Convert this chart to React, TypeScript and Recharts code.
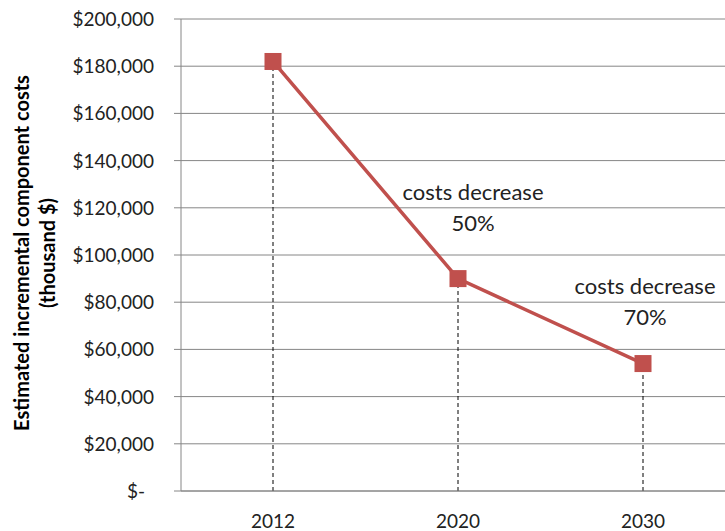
import { LineChart, Line, XAxis, YAxis, CartesianGrid, ReferenceLine, ReferenceDot, Label } from "recharts";

const years = ["2012", "2020", "2030"];
const costs = [182000, 90000, 54000];
const yTicks = [0, 20000, 40000, 60000, 80000, 100000, 120000, 140000, 160000, 180000, 200000];

// annotation anchors (in data units)
const noteYears = ["2020", "2030"];
const noteValues = [120000, 80000];
const notePct = ["50%", "70%"];

const data = years.map((year, i) => ({ year, cost: costs[i] }));

const RED = "#C0504D";
const GRID = "#868686";
const INK = "#222";
const FONT = "Lato, 'Open Sans', sans-serif";

const fmt = (v: number) => (v === 0 ? "$-" : "$" + v.toLocaleString("en-US"));

const YTick = (props: any) => {
  const { x, y, payload } = props;
  const shift = payload.value === 0 ? -9 : 0;
  return (
    <text x={x + shift} y={y} dy={7} textAnchor="end" fontSize={19} fill={INK} fontFamily={FONT}>
      {fmt(payload.value)}
    </text>
  );
};

const SquareDot = (props: any) => {
  const { cx, cy, index } = props;
  return <rect key={index} x={cx - 8.5} y={cy - 8.5} width={17} height={17} fill={RED} />;
};

const YTitle = (props: any) => {
  const vb = props.viewBox || {};
  const cy = vb.y + vb.height / 2 - 2;
  return (
    <g fontFamily={FONT} fontSize={20} fontWeight="bold" fill="#000" textAnchor="middle">
      <text x={22} y={cy} transform={`rotate(-90 22 ${cy})`} dy={7}>
        Estimated incremental component costs
      </text>
      <text x={48} y={cy} transform={`rotate(-90 48 ${cy})`} dy={7}>
        (thousand $)
      </text>
    </g>
  );
};

const Note = (dx: number, pct: string) => (props: any) => {
  const vb = props.viewBox || {};
  const x = vb.x + (vb.width || 0) / 2 + dx;
  const y = vb.y + (vb.height || 0) / 2;
  return (
    <g fontFamily={FONT} fontSize={22} fill={INK} textAnchor="middle">
      <text x={x} y={y} dy={-8}>costs decrease</text>
      <text x={x} y={y} dy={23}>{pct}</text>
    </g>
  );
};

export default function App() {
  return (
    <div style={{ position: "absolute", left: 0, top: 0, background: "#fff" }}>
      <LineChart width={725} height={531} data={data} margin={{ top: 19, right: 0, bottom: 0, left: 0 }}>
        <CartesianGrid vertical={false} stroke={GRID} />
        <XAxis
          dataKey="year"
          height={40}
          padding={{ left: 92, right: 82 }}
          axisLine={{ stroke: GRID }}
          tickLine={false}
          tickMargin={18}
          tick={{ fontSize: 19, fill: INK, fontFamily: FONT }}
        />
        <YAxis
          width={181}
          domain={[0, 200000]}
          ticks={yTicks}
          interval={0}
          axisLine={{ stroke: GRID }}
          tickLine={{ stroke: GRID }}
          tickSize={7}
          tickMargin={20}
          tick={<YTick />}
        >
          <Label content={<YTitle />} />
        </YAxis>
        {years.map((year, i) => (
          <ReferenceLine
            key={year}
            segment={[{ x: year, y: 0 }, { x: year, y: costs[i] }]}
            stroke="#000"
            strokeDasharray="4 3"
          />
        ))}
        <Line
          dataKey="cost"
          stroke={RED}
          strokeWidth={3.5}
          dot={<SquareDot />}
          activeDot={false}
          isAnimationActive={false}
        />
        {noteYears.map((year, i) => (
          <ReferenceDot
            key={year}
            x={year}
            y={noteValues[i]}
            r={0}
            stroke="none"
            fill="none"
            label={{ content: Note(i === 0 ? 15 : 2, notePct[i]) }}
          />
        ))}
      </LineChart>
    </div>
  );
}
